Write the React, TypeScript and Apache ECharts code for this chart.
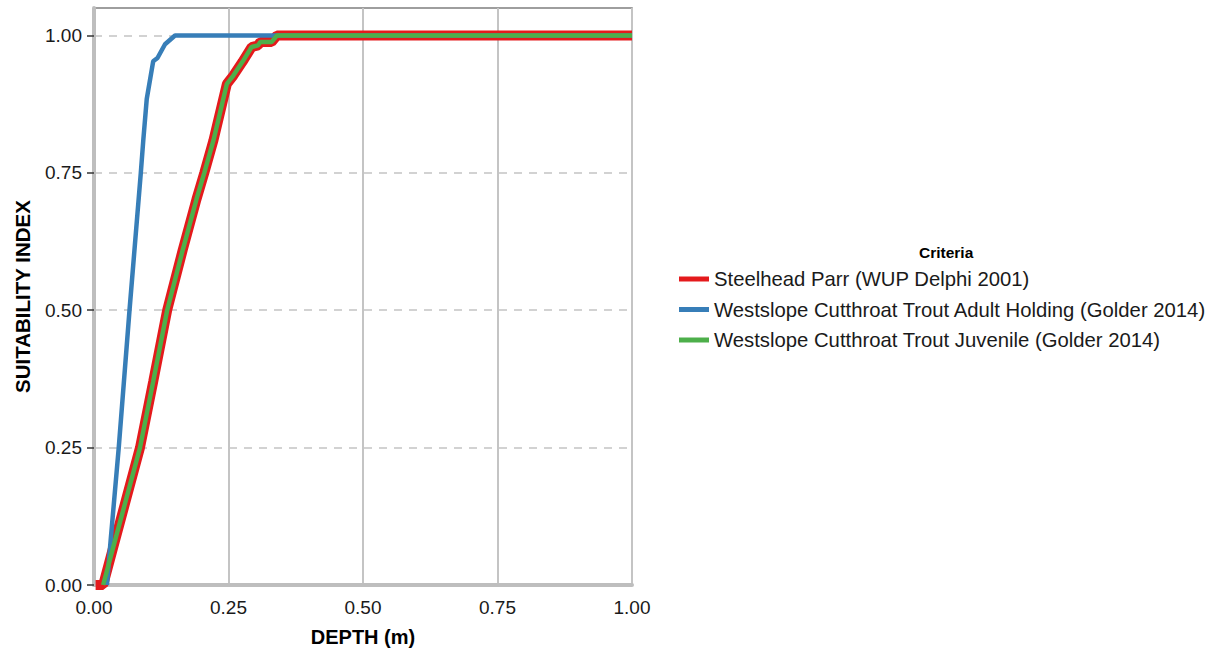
import React, { useEffect, useRef } from "react";
import * as echarts from "echarts";

const seriesNames = [
  "Steelhead Parr (WUP Delphi 2001)",
  "Westslope Cutthroat Trout Adult Holding (Golder 2014)",
  "Westslope Cutthroat Trout Juvenile (Golder 2014)",
];
const seriesColors = ["#E41A1C", "#377EB8", "#4DAF4A"];

const parrDepth = [0.003, 0.017, 0.038, 0.057, 0.0855, 0.11, 0.136, 0.165, 0.1905, 0.205, 0.222, 0.247, 0.259, 0.276, 0.293, 0.305, 0.309, 0.33, 0.34, 1.0];
const parrValue = [0, 0, 0.077, 0.146, 0.25, 0.37, 0.5, 0.61, 0.702, 0.75, 0.809, 0.912, 0.927, 0.952, 0.979, 0.982, 0.988, 0.988, 1.0, 1.0];

const adultDepth = [0.024, 0.031, 0.046, 0.066, 0.087, 0.0916, 0.098, 0.11, 0.118, 0.132, 0.1506, 1.0];
const adultValue = [0, 0.082, 0.25, 0.5, 0.75, 0.809, 0.884, 0.953, 0.959, 0.984, 1.0, 1.0];

const juvDepth = [0.017, 0.038, 0.057, 0.0855, 0.11, 0.136, 0.165, 0.1905, 0.205, 0.222, 0.247, 0.259, 0.276, 0.293, 0.305, 0.309, 0.33, 0.34, 1.0];
const juvValue = [0, 0.077, 0.146, 0.25, 0.37, 0.5, 0.61, 0.702, 0.75, 0.809, 0.912, 0.927, 0.952, 0.979, 0.982, 0.988, 0.988, 1.0, 1.0];

const yTicks = [0, 0.25, 0.5, 0.75, 1.0];

const FONT = "'Liberation Sans', Arial, sans-serif";

function pairs(xs: number[], ys: number[]) {
  return xs.map((x, i) => [x, ys[i]]);
}

export default function App() {
  const ref = useRef<HTMLDivElement>(null);
  useEffect(() => {
    if (!ref.current) return;
    const chart = echarts.init(ref.current, undefined, { renderer: "svg" });
    const datasets = [
      pairs(parrDepth, parrValue),
      pairs(adultDepth, adultValue),
      pairs(juvDepth, juvValue),
    ];
    const widths = [10, 4.5, 4.5];
    chart.setOption({
      animation: false,
      backgroundColor: "#ffffff",
      textStyle: { fontFamily: FONT },
      grid: {
        left: 94,
        right: 596,
        top: 8,
        bottom: 68,
        show: true,
        borderColor: "#7f7f7f",
        borderWidth: 1.5,
        backgroundColor: "transparent",
        containLabel: false,
        outerBoundsMode: "none",
      },
      xAxis: {
        type: "value",
        min: 0,
        max: 1,
        interval: 0.25,
        name: "DEPTH (m)",
        nameLocation: "middle",
        nameGap: 42,
        nameTextStyle: { fontFamily: FONT, fontWeight: "bold", fontSize: 20, color: "#000" },
        axisLine: { show: true, lineStyle: { color: "#bebebe", width: 4 } },
        axisTick: { show: false },
        axisLabel: {
          fontFamily: FONT,
          fontSize: 19,
          color: "#1a1a1a",
          margin: 13,
          formatter: (v: number) => v.toFixed(2),
        },
        splitLine: { show: true, lineStyle: { color: "#c4c4c4", width: 2, type: "solid" } },
      },
      yAxis: {
        type: "value",
        min: 0,
        max: 1.05,
        interval: 0.25,
        name: "SUITABILITY INDEX",
        nameLocation: "middle",
        nameGap: 61,
        nameRotate: 90,
        nameTextStyle: { fontFamily: FONT, fontWeight: "bold", fontSize: 20.5, color: "#000" },
        axisLine: { show: true, lineStyle: { color: "#bebebe", width: 4 } },
        axisTick: { show: true, length: 7, customValues: yTicks, lineStyle: { color: "#333333", width: 1.5 } },
        axisLabel: {
          fontFamily: FONT,
          fontSize: 19,
          color: "#1a1a1a",
          margin: 12,
          customValues: yTicks,
          formatter: (v: number) => v.toFixed(2),
        },
        splitLine: { show: true, lineStyle: { color: "#c4c4c4", width: 1.5, type: [8, 7] } },
      },
      legend: {
        orient: "vertical",
        left: 679,
        top: 268,
        padding: 0,
        icon: "rect",
        itemWidth: 30,
        itemHeight: 5,
        itemGap: 8.5,
        data: seriesNames,
        textStyle: { fontFamily: FONT, fontSize: 20.3, color: "#1a1a1a", lineHeight: 22 },
      },
      graphic: [
        {
          type: "text",
          left: 919,
          top: 244,
          style: { text: "Criteria", fontFamily: FONT, fontWeight: "bold", fontSize: 15.5, fill: "#000" },
        },
      ],
      series: datasets.map((d, i) => ({
        name: seriesNames[i],
        type: "line",
        data: d,
        symbol: "none",
        z: 2 + i,
        color: seriesColors[i],
        lineStyle: { width: widths[i], color: seriesColors[i] },
      })),
    });
    return () => chart.dispose();
  }, []);
  return (
    <div
      ref={ref}
      style={{ position: "absolute", left: 0, top: 0, width: 1228, height: 653 }}
    />
  );
}
